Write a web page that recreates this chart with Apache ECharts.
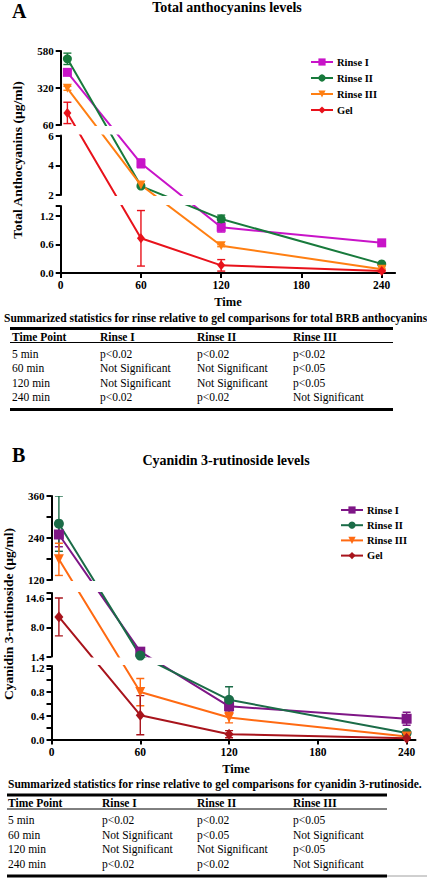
<!DOCTYPE html>
<html><head><meta charset="utf-8">
<script src="https://cdn.jsdelivr.net/npm/echarts@6/dist/echarts.min.js"></script>
<style>html,body{margin:0;padding:0;background:#fff;}#c{width:427px;height:881px;}</style>
</head><body><div id="c"></div>
<script>
// ================= DATA =================
const times = [5, 60, 120, 240];
const seriesNames = ['Rinse I', 'Rinse II', 'Rinse III', 'Gel'];
const xTicks = [0, 60, 120, 180, 240];

// Panel A: Total anthocyanins (µg/ml)
const totalRinseI = [430, 4.13, 0.955, 0.63];
const totalRinseIErr = [15, 0.3, 0.1, 0.03];
const totalRinseII = [525, 2.6, 1.13, 0.19];
const totalRinseIIErr = [40, 0.08, 0.08, 0.02];
const totalRinseIII = [318, 2.67, 0.57, 0.08];
const totalRinseIIIErr = [14, 0.08, 0.02, 0.02];
const totalGel = [145, 0.725, 0.16, 0.04];
const totalGelErr = [75, 0.58, 0.12, 0.02];
const totalSegments = [[0, 1.4], [2, 6], [60, 580]];
const totalYTicks = [[0, 0.6, 1.2], [2, 4, 6], [60, 320, 580]];
const totalYLabels = [['0.0', '0.6', '1.2'], ['2', '4', '6'], ['60', '320', '580']];
const totalMinorTicks = [[1.4], [], []];

// Panel B: Cyanidin 3-rutinoside (µg/ml)
const cyaRinseI = [250, 2.5, 0.56, 0.35];
const cyaRinseIErr = [35, 0.2, 0.1, 0.11];
const cyaRinseII = [281, 1.6, 0.67, 0.11];
const cyaRinseIIErr = [79, 0.2, 0.22, 0.02];
const cyaRinseIII = [179, 0.8, 0.37, 0.05];
const cyaRinseIIIErr = [46, 0.23, 0.09, 0.01];
const cyaGel = [10.4, 0.41, 0.09, 0.02];
const cyaGelErr = [4.3, 0.33, 0.06, 0.01];
const cyaSegments = [[0, 1.24], [1.4, 15.85], [120, 360]];
const cyaYTicks = [[0, 0.4, 0.8, 1.2], [1.4, 8.0, 14.6], [120, 240, 360]];
const cyaYLabels = [['0.0', '0.4', '0.8', '1.2'], ['1.4', '8.0', '14.6'], ['120', '240', '360']];
const cyaMinorTicks = [[0.2, 0.6, 1.0, 1.24], [15.85], [180, 300]];

// Tables
const tableHeader = ['Time Point', 'Rinse I', 'Rinse II', 'Rinse III'];
const tableTimePoints = ['5 min', '60 min', '120 min', '240 min'];
const totalTableRinseI = ['p<0.02', 'Not Significant', 'Not Significant', 'p<0.02'];
const totalTableRinseII = ['p<0.02', 'Not Significant', 'Not Significant', 'p<0.02'];
const totalTableRinseIII = ['p<0.02', 'p<0.05', 'p<0.05', 'Not Significant'];
const cyaTableRinseI = ['p<0.02', 'Not Significant', 'Not Significant', 'p<0.02'];
const cyaTableRinseII = ['p<0.02', 'p<0.05', 'Not Significant', 'p<0.02'];
const cyaTableRinseIII = ['p<0.05', 'Not Significant', 'p<0.05', 'Not Significant'];

const textA = {letter: 'A', title: 'Total anthocyanins levels', yTitle: 'Total Anthocyanins (µg/ml)', xTitle: 'Time',
  caption: 'Summarized statistics for rinse relative to gel comparisons for total BRB anthocyanins'};
const textB = {letter: 'B', title: 'Cyanidin 3-rutinoside levels', yTitle: 'Cyanidin 3-rutinoside (µg/ml)', xTitle: 'Time',
  caption: 'Summarized statistics for rinse relative to gel comparisons for cyanidin 3-rutinoside.'};

// ================= LAYOUT / STYLE =================
const FONT = '"Liberation Serif", "Times New Roman", serif';
const symbols = ['rect', 'circle', 'triangle', 'diamond'];
const symbolRot = [0, 0, 180, 0];

const panels = [
  { key: 'A', text: textA,
    values: [totalRinseI, totalRinseII, totalRinseIII, totalGel],
    errs: [totalRinseIErr, totalRinseIIErr, totalRinseIIIErr, totalGelErr],
    segs: totalSegments, ticks: totalYTicks, labels: totalYLabels, minor: totalMinorTicks,
    table: [tableTimePoints, totalTableRinseI, totalTableRinseII, totalTableRinseIII],
    colors: ['#C814C8', '#187A3C', '#FF7F12', '#E8121B'],
    symSize: [9, 9, 9, [8, 10]],
    left: 60.7, width: 334.4, xMax: 250,
    segPx: [[273, 206], [195, 135.5], [125, 51]],
    legend: {left: 310, top: 56.5, gap: 5},
    pos: {letter: [12, 11], title: [227, 7.5], yTitle: [17, 160], xTitle: [228, 302], caption: [4, 317.5],
          tableL: 10, tableR: 393, colX: [12, 100, 197, 293], topLine: 328.5, header: 336.5, headLine: 342.5,
          rows: [353.5, 368, 382.5, 397], bottomLine: 409.5, tail: null}
  },
  { key: 'B', text: textB,
    values: [cyaRinseI, cyaRinseII, cyaRinseIII, cyaGel],
    errs: [cyaRinseIErr, cyaRinseIIErr, cyaRinseIIIErr, cyaGelErr],
    segs: cyaSegments, ticks: cyaYTicks, labels: cyaYLabels, minor: cyaMinorTicks,
    table: [tableTimePoints, cyaTableRinseI, cyaTableRinseII, cyaTableRinseIII],
    colors: ['#7E1686', '#1B6C48', '#FF6A12', '#A8141C'],
    symSize: [10, 10, 10, [9, 11]],
    left: 51.5, width: 364, xMax: 246,
    segPx: [[739.5, 666], [656.5, 593], [580, 496]],
    legend: {left: 340, top: 504.5, gap: 4.2},
    pos: {letter: [12, 455], title: [226, 460], yTitle: [8, 614], xTitle: [236, 768.5], caption: [8, 784],
          tableL: 7, tableR: 387, colX: [8, 102, 197, 293], topLine: 795, header: 803, headLine: 809,
          rows: [820, 834.5, 849, 863.5], bottomLine: 876, tail: 427}
  }
];

// piecewise (broken-axis) scale: value -> continuous virtual coordinate (1 unit = 1 px)
function makeScale(segs, segPx) {
  const base = segPx[0][0];
  return function (v) {
    for (let i = 0; i < segs.length; i++) {
      const lo = segs[i][0], hi = segs[i][1];
      if (v <= hi || i === segs.length - 1) {
        if (v < lo && i > 0) {
          const phi = segs[i - 1][1];
          const a = base - segPx[i - 1][1], b = base - segPx[i][0];
          return a + (v - phi) / (lo - phi) * (b - a);
        }
        const pb = segPx[i][0], pt = segPx[i][1];
        return (base - pb) + (v - lo) / (hi - lo) * (pb - pt);
      }
    }
  };
}

const grids = [], xAxes = [], yAxes = [], series = [], legends = [], G = [];
const axisLineStyle = {color: '#000', width: 2};
const labelStyle = {color: '#000', fontFamily: FONT, fontWeight: 'bold', fontSize: 11};

function txt(x, y, text, size, bold, align, rot) {
  G.push({type: 'text', x: x, y: y, rotation: rot || 0, silent: true,
    style: {text: text, fill: '#000', fontFamily: FONT, fontSize: size, fontWeight: bold ? 'bold' : 'normal',
      align: align || 'left', verticalAlign: 'middle'}});
}
function hline(x1, x2, y, w, color) {
  G.push({type: 'line', silent: true, shape: {x1: x1, y1: y, x2: x2, y2: y}, style: {stroke: color || '#000', lineWidth: w}});
}

panels.forEach(p => {
  const f = makeScale(p.segs, p.segPx);
  p.segs.forEach((seg, i) => {
    const gi = grids.length;
    const pb = p.segPx[i][0], pt = p.segPx[i][1];
    grids.push({left: p.left, top: pt, width: p.width, height: pb - pt});
    const isBottom = i === 0;
    xAxes.push({type: 'value', gridIndex: gi, min: 0, max: p.xMax, show: isBottom,
      axisLine: {onZero: false, lineStyle: axisLineStyle},
      axisTick: {customValues: xTicks, length: 5, lineStyle: axisLineStyle},
      axisLabel: Object.assign({customValues: xTicks, margin: 6}, labelStyle, {fontSize: 11.5}),
      splitLine: {show: false}});
    const tickVals = p.ticks[i].concat(p.minor[i]).map(f);
    const labVals = p.ticks[i].map(f);
    const labs = p.labels[i];
    yAxes.push({type: 'value', gridIndex: gi, min: f(seg[0]), max: f(seg[1]),
      axisLine: {show: true, onZero: false, lineStyle: axisLineStyle},
      axisTick: {show: true, customValues: tickVals, length: 5, lineStyle: axisLineStyle},
      axisLabel: Object.assign({customValues: labVals, margin: 7,
        formatter: function (v) {
          let best = 0, bd = Infinity;
          labVals.forEach((lv, k) => { const d = Math.abs(lv - v); if (d < bd) { bd = d; best = k; } });
          return labs[best];
        }}, labelStyle),
      splitLine: {show: false}});
    // error bars (drawn below the lines)
    p.values.forEach((vals, s) => {
      const data = [];
      vals.forEach((v, k) => {
        if (v >= seg[0] && v <= seg[1]) data.push([times[k], f(v - p.errs[s][k]), f(v + p.errs[s][k])]);
      });
      const color = p.colors[s];
      series.push({type: 'custom', name: p.key + '-err-' + s, xAxisIndex: gi, yAxisIndex: gi, clip: true, z: 2,
        silent: true, encode: {x: 0, y: [1, 2]}, data: data,
        renderItem: function (params, api) {
          const x = api.value(0);
          const a = api.coord([x, api.value(1)]), b = api.coord([x, api.value(2)]);
          const w = 4;
          const st = {stroke: color, lineWidth: 1.4};
          return {type: 'group', children: [
            {type: 'line', shape: {x1: a[0], y1: a[1], x2: b[0], y2: b[1]}, style: st},
            {type: 'line', shape: {x1: a[0] - w, y1: a[1], x2: a[0] + w, y2: a[1]}, style: st},
            {type: 'line', shape: {x1: b[0] - w, y1: b[1], x2: b[0] + w, y2: b[1]}, style: st}
          ]};
        }});
    });
    p.values.forEach((vals, s) => {
      series.push({type: 'line', name: p.key + '|' + seriesNames[s], xAxisIndex: gi, yAxisIndex: gi,
        data: times.map((t, k) => [t, f(vals[k])]),
        symbol: symbols[s], symbolRotate: symbolRot[s], symbolSize: p.symSize[s], showSymbol: true,
        lineStyle: {color: p.colors[s], width: 2}, itemStyle: {color: p.colors[s]},
        clip: true, z: 3, silent: true});
    });
  });
  legends.push({data: seriesNames.map(n => p.key + '|' + n), orient: 'vertical', padding: 0,
    left: p.legend.left, top: p.legend.top, itemGap: p.legend.gap, itemWidth: 22, itemHeight: 9,
    selectedMode: false, formatter: n => n.split('|')[1],
    textStyle: {color: '#000', fontFamily: FONT, fontWeight: 'bold', fontSize: 10.5, padding: [0, 0, 0, -1]}});

  // texts
  const q = p.pos, t = p.text;
  txt(q.letter[0], q.letter[1], t.letter, 20, true, 'left');
  txt(q.title[0], q.title[1], t.title, 14, true, 'center');
  txt(q.yTitle[0], q.yTitle[1], t.yTitle, 13.5, true, 'center', Math.PI / 2);
  txt(q.xTitle[0], q.xTitle[1], t.xTitle, 12.5, true, 'center');
  txt(q.caption[0], q.caption[1], t.caption, 11.5, true, 'left');
  // table
  hline(q.tableL, q.tableR, q.topLine, 3);
  tableHeader.forEach((h, c) => txt(q.colX[c], q.header, h, 11.5, true, 'left'));
  hline(q.tableL, q.tableR, q.headLine, 1);
  q.rows.forEach((ry, r) => {
    p.table.forEach((col, c) => txt(q.colX[c], ry, col[r], 11.5, false, 'left'));
  });
  hline(q.tableL, q.tableR, q.bottomLine, 3);
  if (q.tail) hline(q.tableR, q.tail, q.bottomLine, 0.8, '#888');
});

const chart = echarts.init(document.getElementById('c'), null, {renderer: 'svg', width: 427, height: 881});
chart.setOption({
  animation: false,
  backgroundColor: '#fff',
  grid: grids, xAxis: xAxes, yAxis: yAxes, series: series, legend: legends, graphic: G
});
</script></body></html>
